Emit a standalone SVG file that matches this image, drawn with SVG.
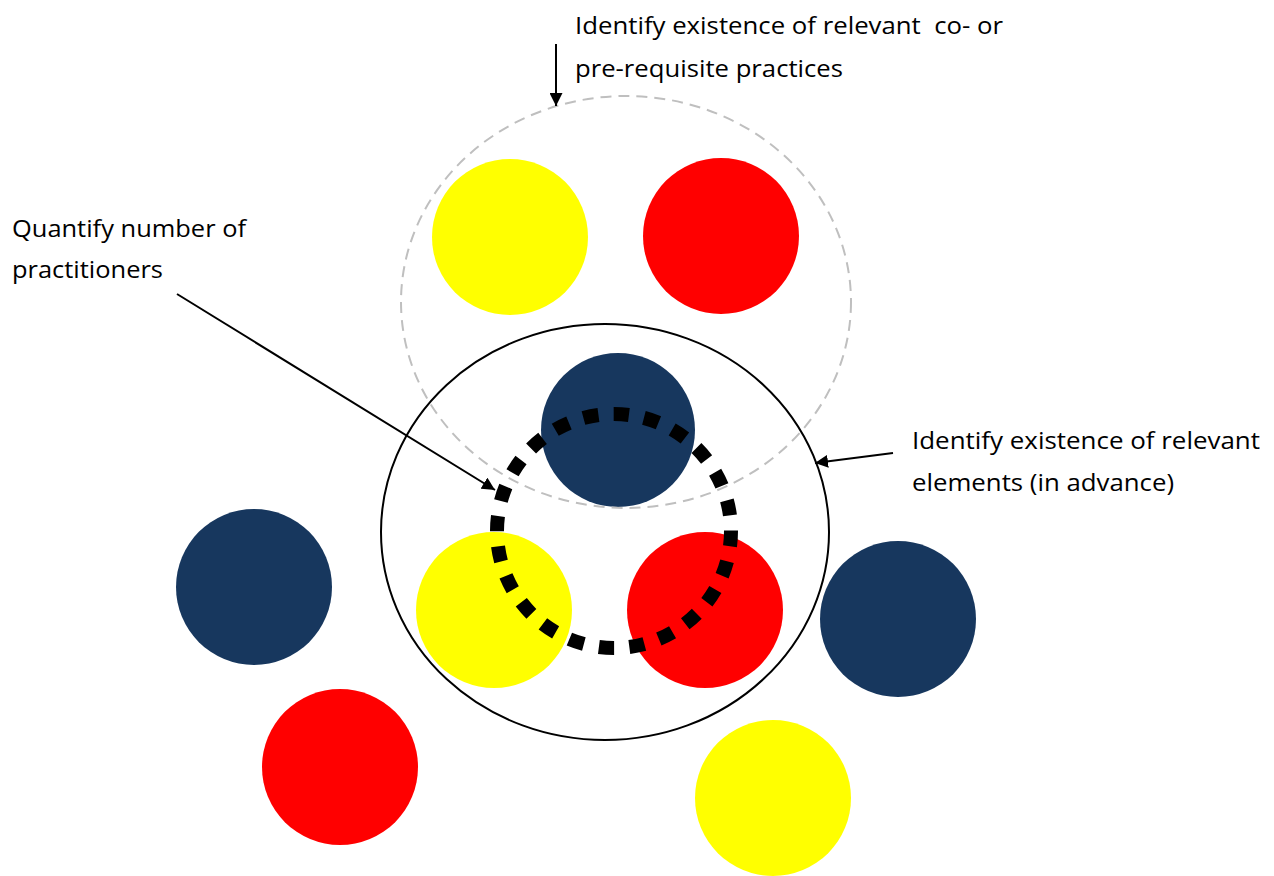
<svg xmlns="http://www.w3.org/2000/svg" width="1274" height="876" viewBox="0 0 1274 876">
<defs>
<style>
.lbl{font-family:"Open Sans","Noto Sans",sans-serif;font-size:24px;fill:#000;white-space:pre}
.navy{fill:#17375E}
.red{fill:#FF0000}
.yel{fill:#FFFF00}
.conn{stroke:#000;stroke-width:2;fill:none}
</style>
<marker id="ahl" viewBox="0 0 10 10" refX="10" refY="5" markerWidth="13" markerHeight="13" markerUnits="userSpaceOnUse" orient="auto">
<path d="M0,0 L10,5 L0,10 z" fill="#000"/>
</marker>
</defs>
<rect width="1274" height="876" fill="#fff"/>
<g id="circles">
<circle id="c-yellow-top" class="yel" cx="510" cy="237" r="78"/>
<circle id="c-red-top" class="red" cx="721" cy="236" r="78"/>
<circle id="c-navy-center" class="navy" cx="618" cy="430" r="77"/>
<circle id="c-yellow-mid" class="yel" cx="494" cy="610" r="78"/>
<circle id="c-red-mid" class="red" cx="705" cy="610" r="78"/>
<circle id="c-navy-left" class="navy" cx="254" cy="587" r="78"/>
<circle id="c-navy-right" class="navy" cx="898" cy="619" r="78"/>
<circle id="c-red-bottom" class="red" cx="340" cy="767" r="78"/>
<circle id="c-yellow-bottom" class="yel" cx="773" cy="798" r="78"/>
</g>
<g id="practices-boundary">
<ellipse cx="626" cy="302" rx="225" ry="206" fill="none" stroke="#BFBFBF" stroke-width="2" stroke-dasharray="11,7"/>
</g>
<g id="elements-boundary">
<ellipse cx="605" cy="532" rx="224" ry="208" fill="none" stroke="#000" stroke-width="2"/>
</g>
<g id="practitioners-boundary">
<circle cx="614" cy="531" r="117" fill="none" stroke="#000" stroke-width="14" stroke-dasharray="15.3,15.3"/>
</g>
<g id="connectors">
<line class="conn" x1="556" y1="44" x2="556" y2="106" marker-end="url(#ahl)"/>
<line class="conn" x1="177" y1="294" x2="495" y2="490" marker-end="url(#ahl)"/>
<line class="conn" x1="893" y1="453" x2="815" y2="463" marker-end="url(#ahl)"/>
</g>
<g id="label-top">
<text class="lbl" x="575" y="34" textLength="428" lengthAdjust="spacingAndGlyphs" xml:space="preserve">Identify existence of relevant  co- or</text>
<text class="lbl" x="575" y="77" textLength="268" lengthAdjust="spacingAndGlyphs">pre-requisite practices</text>
</g>
<g id="label-left">
<text class="lbl" x="12" y="237" textLength="234" lengthAdjust="spacingAndGlyphs">Quantify number of</text>
<text class="lbl" x="12" y="278" textLength="151" lengthAdjust="spacingAndGlyphs">practitioners</text>
</g>
<g id="label-right">
<text class="lbl" x="912" y="449" textLength="348" lengthAdjust="spacingAndGlyphs">Identify existence of relevant</text>
<text class="lbl" x="912" y="491" textLength="262" lengthAdjust="spacingAndGlyphs">elements (in advance)</text>
</g>
</svg>
